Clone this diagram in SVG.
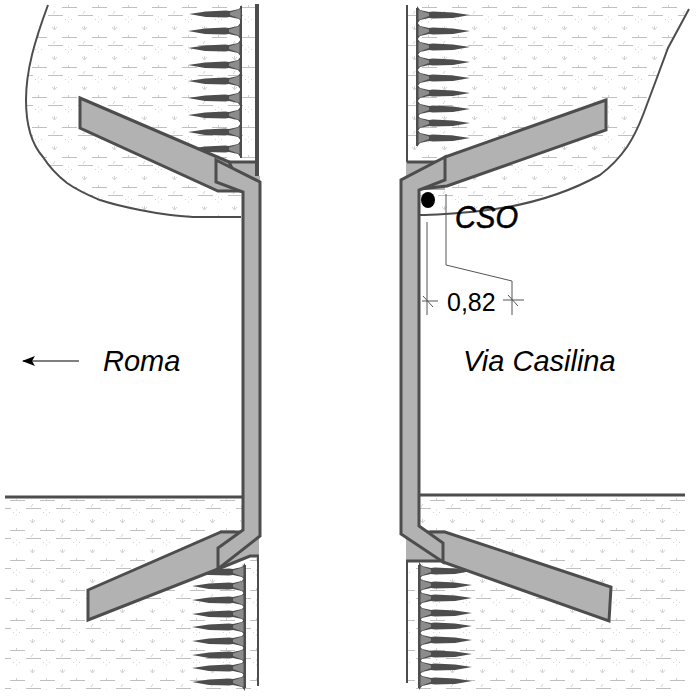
<svg xmlns="http://www.w3.org/2000/svg" width="700" height="700" viewBox="0 0 700 700">
<style>
.c{fill:#b2b2b2;stroke:#4d4d4d;stroke-width:3;stroke-linejoin:miter}
.w{fill:none;stroke:#4d4d4d;stroke-width:3}
.n{fill:none;stroke:#4d4d4d;stroke-width:2}
.d{fill:none;stroke:#555;stroke-width:1}
text{font-family:"Liberation Sans",Arial,sans-serif;fill:#000}
</style>
<defs>
<g id="tile">
<path d="M2 7.5H17M18 15.500H33M-12 15.500H3" stroke="#c0c0c0" stroke-width="1" fill="none"/>
<path d="M8.500 5V7M25 11l-2 3M24.500 26v4M22 27l2.500 3M27 27l-2.500 3M5 19.500h1M11 19.500h1M8 17h1M8 22h1" stroke="#d2d2d2" stroke-width="1" fill="none"/>
</g>
<pattern id="soil" width="30" height="30" patternUnits="userSpaceOnUse"><use href="#tile"/><use href="#tile" x="30"/><use href="#tile" y="-30"/></pattern>
<pattern id="soil2" width="30" height="30" patternUnits="userSpaceOnUse" patternTransform="translate(8,13)"><use href="#tile"/><use href="#tile" x="30"/><use href="#tile" y="-30"/></pattern>
<marker id="ah" markerWidth="14" markerHeight="12" refX="12" refY="6" orient="auto" markerUnits="userSpaceOnUse"><path d="M13 6L0 1L3 6L0 11Z" fill="#000"/></marker>
<g id="sR"><path d="M0 -9L3 -5L12 -3L16 -3.500L36 -2.500L53 0L36 3L16 3.500L12 3L3 5L0 9Z" fill="#4d4d4d"/><path d="M1.500 -5L12 -1.500V1L1.500 5Z" fill="#8c8c8c"/></g>
<g id="sL"><use href="#sR" transform="scale(-1,1)"/></g>
</defs>
<g id="soil-areas">
<path fill="url(#soil)" d="M48 5C35 40 26 70 26 100C26 130 35 148 43 157C50 168 58 176 67 183C80 192 88 195 100 200C115 205 125 207 140 210C160 214 175 216 193 217H241V162H255V5Z"/>
<path fill="url(#soil)" d="M407 5H691L668 48L655 83L643 115C638 128 633 138 627 147C618 160 608 169 600 175C560 197 517 207 480 211C460 213 440 215 419 215V165H407Z"/>
<path fill="url(#soil2)" d="M5 499H243V530L259 556V690H5Z"/>
<path fill="url(#soil2)" d="M419 497H685V690H407V540L419 526Z"/>
</g>
<g id="connectors">
<path class="n" d="M48 5C35 40 26 70 26 100C26 130 35 148 43 157C50 168 58 176 67 183C80 192 88 195 100 200C115 205 125 207 140 210C160 214 175 216 193 217H241"/>
<path class="n" d="M689 9L668 48L655 83L643 115C638 128 633 138 627 147C618 160 608 169 600 175C560 197 517 207 480 211C460 213 440 215 419 215"/>
<path class="w" d="M5 497H243M419 495H685"/>
<path d="M257 4V176" stroke="#4d4d4d" stroke-width="4" fill="none"/>
<path class="n" d="M407 5V162"/>
<path class="n" d="M258 556V686M407 561V683"/>
<g class="d">
<path d="M427 222V315M422 301H438M423 296L433 307"/>
<path d="M446 194V265L512 281V315M503 300H524M508 295L518 306"/>
</g>
<path d="M79 361H23" stroke="#000" stroke-width="1" marker-end="url(#ah)"/>
</g>
<g id="anchors">
<path d="M241 6V158" class="n"/>
<use href="#sL" x="242" y="14"/><use href="#sL" x="241" y="31"/><use href="#sL" x="241" y="48"/><use href="#sL" x="241" y="65"/><use href="#sL" x="241" y="81"/><use href="#sL" x="241" y="98"/><use href="#sL" x="241" y="115"/><use href="#sL" x="241" y="132"/><use href="#sL" x="241" y="149"/>
<path d="M417 8V146" class="n"/>
<use href="#sR" x="417" y="15"/><use href="#sR" x="417" y="31"/><use href="#sR" x="417" y="47"/><use href="#sR" x="417" y="62"/><use href="#sR" x="417" y="78"/><use href="#sR" x="417" y="93"/><use href="#sR" x="417" y="109"/><use href="#sR" x="417" y="123"/><use href="#sR" x="417" y="138"/>
<path d="M245 565V688" class="n"/>
<use href="#sL" x="245" y="572"/><use href="#sL" x="245" y="586"/><use href="#sL" x="245" y="600"/><use href="#sL" x="245" y="614"/><use href="#sL" x="245" y="627"/><use href="#sL" x="245" y="641"/><use href="#sL" x="245" y="655"/><use href="#sL" x="245" y="668"/><use href="#sL" x="245" y="682"/>
<path d="M419 565V688" class="n"/>
<use href="#sR" x="419" y="571"/><use href="#sR" x="419" y="585"/><use href="#sR" x="419" y="598"/><use href="#sR" x="419" y="613"/><use href="#sR" x="419" y="626"/><use href="#sR" x="419" y="640"/><use href="#sR" x="419" y="654"/><use href="#sR" x="419" y="667"/><use href="#sR" x="419" y="681"/>
</g>
<g id="structure">
<path fill="#b2b2b2" d="M216 162H255V176H260V190H216ZM218 534H259V556H250L218 569ZM406 162H445V190H406ZM406 534H445V561H406Z"/>
<path class="w" d="M229 162H255M218 569L250 556H259M406 561H443M407 162H445"/>
<path class="c" d="M80 98L229 162L243 191H218L80 128Z"/>
<path class="c" d="M606 100L445 157L419 189L447 186L606 130Z"/>
<path class="c" d="M88 590L221 532H243L218 569L88 620Z"/>
<path class="c" d="M427 532H445L611 587L609 621L443 562Z"/>
<path class="c" d="M216 160L260 182V536L218 569V548L243 530V192L216 182Z"/>
<path class="c" d="M445 157L401 180V534L443 562V543L419 526V190L445 180Z"/>
</g>
<g id="labels">
<ellipse cx="428" cy="200" rx="7" ry="8" fill="#000"/>
<text x="455" y="228" font-size="32" font-style="italic" textLength="63" lengthAdjust="spacingAndGlyphs" stroke="#000" stroke-width="0.6">CSO</text>
<text x="103" y="371" font-size="29" font-style="italic">Roma</text>
<text x="463" y="371" font-size="29" font-style="italic">Via Casilina</text>
<text x="447" y="311" font-size="25">0,82</text>
</g>
</svg>
